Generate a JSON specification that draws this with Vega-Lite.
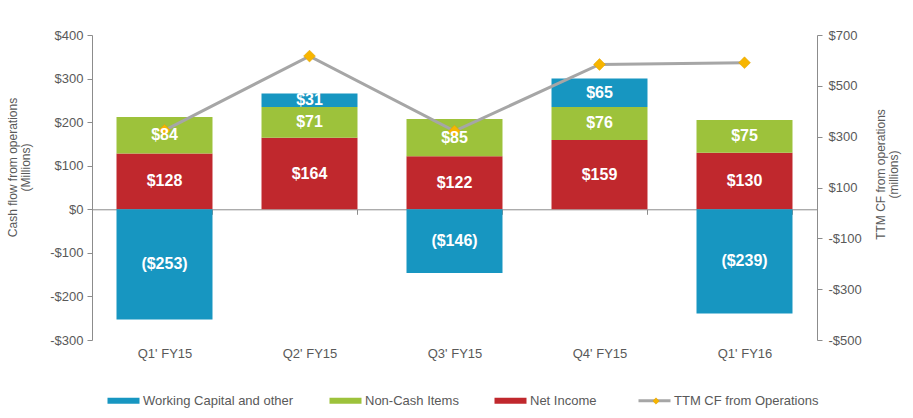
{
  "$schema": "https://vega.github.io/schema/vega-lite/v6.json",
  "width": 725,
  "height": 305,
  "autosize": {"type": "none"},
  "padding": {"left": 92, "top": 35, "right": 96, "bottom": 78},
  "background": "white",
  "config": {
    "view": {"stroke": null},
    "font": "Liberation Sans",
    "axis": {
      "grid": false,
      "domainColor": "#8C8C8C",
      "tickColor": "#8C8C8C",
      "labelFont": "Liberation Sans",
      "labelFontSize": 13,
      "labelColor": "#595959",
      "titleFont": "Liberation Sans",
      "titleFontSize": 12,
      "titleFontWeight": "normal",
      "titleColor": "#595959"
    }
  },
  "datasets": {
    "cf": [
      {"quarter": "Q1' FY15", "series": "Net Income", "value": 128},
      {"quarter": "Q1' FY15", "series": "Non-Cash Items", "value": 84},
      {"quarter": "Q1' FY15", "series": "Working Capital and other", "value": -253},
      {"quarter": "Q2' FY15", "series": "Net Income", "value": 164},
      {"quarter": "Q2' FY15", "series": "Non-Cash Items", "value": 71},
      {"quarter": "Q2' FY15", "series": "Working Capital and other", "value": 31},
      {"quarter": "Q3' FY15", "series": "Net Income", "value": 122},
      {"quarter": "Q3' FY15", "series": "Non-Cash Items", "value": 85},
      {"quarter": "Q3' FY15", "series": "Working Capital and other", "value": -146},
      {"quarter": "Q4' FY15", "series": "Net Income", "value": 159},
      {"quarter": "Q4' FY15", "series": "Non-Cash Items", "value": 76},
      {"quarter": "Q4' FY15", "series": "Working Capital and other", "value": 65},
      {"quarter": "Q1' FY16", "series": "Net Income", "value": 130},
      {"quarter": "Q1' FY16", "series": "Non-Cash Items", "value": 75},
      {"quarter": "Q1' FY16", "series": "Working Capital and other", "value": -239}
    ],
    "ttm": [
      {"quarter": "Q1' FY15", "series": "TTM CF from Operations", "ttm": 325},
      {"quarter": "Q2' FY15", "series": "TTM CF from Operations", "ttm": 617},
      {"quarter": "Q3' FY15", "series": "TTM CF from Operations", "ttm": 322},
      {"quarter": "Q4' FY15", "series": "TTM CF from Operations", "ttm": 584},
      {"quarter": "Q1' FY16", "series": "TTM CF from Operations", "ttm": 591}
    ]
  },
  "layer": [
    {
      "data": {"name": "cf"},
      "mark": {"type": "bar"},
      "encoding": {
        "x": {
          "field": "quarter", "type": "nominal", "sort": null,
          "scale": {"paddingInner": 0.338, "paddingOuter": 0.169},
          "axis": {
            "title": null, "orient": "bottom", "offset": -130.71,
            "tickBand": "extent", "tickSize": 5, "labelPadding": 133,
            "labelAngle": 0
          }
        },
        "y": {
          "field": "value", "type": "quantitative", "stack": "zero",
          "scale": {"domain": [-300, 400], "nice": false, "zero": false},
          "axis": {
            "title": ["Cash flow from operations", "(Millions)"],
            "values": [-300, -200, -100, 0, 100, 200, 300, 400],
            "tickSize": 5, "labelPadding": 4,
            "labelExpr": "datum.value < 0 ? '-$' + (-datum.value) : '$' + datum.value",
            "titleAngle": 270, "titleX": -85, "titleY": 132,
            "titleBaseline": "top", "titleAlign": "center", "titleLineHeight": 13
          }
        },
        "color": {
          "field": "series", "type": "nominal",
          "scale": {
            "domain": ["Working Capital and other", "Non-Cash Items", "Net Income", "TTM CF from Operations"],
            "range": ["#1796C1", "#9DC23B", "#C0282D", "#A6A6A6"]
          },
          "legend": {
            "title": null, "orient": "none", "legendX": 25, "legendY": 359,
            "direction": "horizontal", "columns": 4, "symbolSize": 1024,
            "labelOffset": 13, "columnPadding": 35, "padding": 0,
            "labelFont": "Liberation Sans", "labelFontSize": 13, "labelColor": "#595959",
            "encode": {
              "symbols": {
                "update": {
                  "shape": {"signal": "datum.value === 'TTM CF from Operations' ? 'M-1,0H1' : 'M-1,-0.19H1V0.19H-1Z'"},
                  "fill": {"scale": "color", "field": "value"},
                  "stroke": {"scale": "color", "field": "value"},
                  "strokeWidth": {"signal": "datum.value === 'TTM CF from Operations' ? 3 : 0"},
                  "opacity": {"value": 1}
                }
              }
            }
          }
        },
        "order": {"field": "series", "sort": "ascending"}
      }
    },
    {
      "data": {"name": "ttm"},
      "layer": [
        {
          "mark": {"type": "line", "strokeWidth": 3},
          "encoding": {
            "x": {"field": "quarter", "type": "nominal", "sort": null},
            "y": {
              "field": "ttm", "type": "quantitative",
              "scale": {"domain": [-500, 700], "nice": false, "zero": false},
              "axis": {
                "title": ["TTM CF from operations", "(millions)"],
                "values": [-500, -300, -100, 100, 300, 500, 700],
                "tickSize": 5, "labelPadding": 6,
                "labelExpr": "datum.value < 0 ? '-$' + (-datum.value) : '$' + datum.value",
                "titleAngle": 270, "titleX": 58, "titleY": 139,
                "titleBaseline": "top", "titleAlign": "center", "titleLineHeight": 13
              }
            },
            "color": {
              "field": "series", "type": "nominal",
              "scale": {
                "domain": ["Working Capital and other", "Non-Cash Items", "Net Income", "TTM CF from Operations"],
                "range": ["#1796C1", "#9DC23B", "#C0282D", "#A6A6A6"]
              }
            }
          }
        },
        {
          "mark": {"type": "point", "shape": "diamond", "filled": true, "size": 140, "opacity": 1, "stroke": "#E0A000", "strokeWidth": 0.5},
          "encoding": {
            "x": {"field": "quarter", "type": "nominal", "sort": null},
            "y": {"field": "ttm", "type": "quantitative"},
            "fill": {
              "field": "series", "type": "nominal",
              "scale": {"domain": ["TTM CF from Operations"], "range": ["#F7B500"]},
              "legend": {
                "title": null, "orient": "none", "legendX": 559, "legendY": 361,
                "symbolType": "diamond", "symbolSize": 40, "labelExpr": "''",
                "padding": 0, "zindex": 2, "symbolOpacity": 1,
                "symbolStrokeColor": "#E0A000", "symbolStrokeWidth": 0.5
              }
            }
          }
        }
      ]
    },
    {
      "data": {"name": "cf"},
      "transform": [
        {"stack": "value", "groupby": ["quarter"], "sort": [{"field": "series", "order": "ascending"}], "as": ["v0", "v1"]},
        {"calculate": "(datum.v0 + datum.v1) / 2", "as": "mid"}
      ],
      "mark": {"type": "text", "color": "white", "fontWeight": "bold", "fontSize": 16, "baseline": "middle", "font": "Liberation Sans"},
      "encoding": {
        "x": {"field": "quarter", "type": "nominal", "sort": null},
        "y": {
          "field": "mid", "type": "quantitative",
          "scale": {"domain": [-300, 400], "nice": false, "zero": false},
          "axis": null
        },
        "text": {"field": "value", "type": "quantitative", "format": "($.0f"}
      }
    }
  ],
  "resolve": {"scale": {"y": "independent"}}
}
